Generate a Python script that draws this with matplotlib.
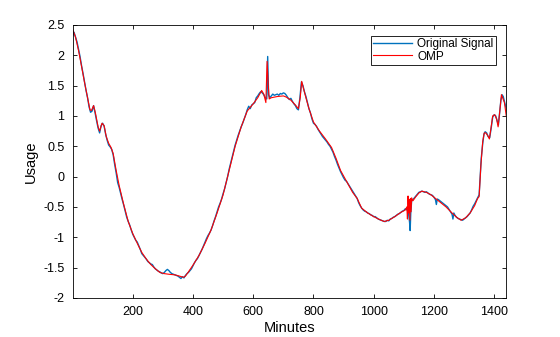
import numpy as np
import matplotlib.pyplot as plt

plt.rcParams['font.family'] = ['Liberation Sans', 'DejaVu Sans']

# original signal (minute, usage)
orig_min = [1, 5, 10, 15, 20, 25, 30, 35, 40, 45, 50, 55, 60, 65, 70, 75, 80, 85, 90, 95,
            100, 105, 110, 115, 120, 125, 130, 135, 140, 145, 150, 155, 160, 165, 170, 175,
            180, 185, 190, 195, 200, 205, 210, 215, 220, 225, 230, 235, 240, 245, 250, 255,
            260, 265, 270, 275, 280, 285, 290, 295, 300, 305, 310, 315, 320, 325, 330, 335,
            340, 345, 350, 355, 360, 365, 370, 375, 380, 385, 390, 395, 400, 405, 410, 415,
            420, 425, 430, 435, 440, 445, 450, 455, 460, 465, 470, 475, 480, 485, 490, 495,
            500, 505, 510, 515, 520, 525, 530, 535, 540, 545, 550, 555, 560, 565, 570, 575,
            580, 585, 590, 595, 600, 605, 610, 615, 620, 625, 630, 635, 640, 645, 648, 651,
            655, 660, 665, 670, 675, 680, 685, 690, 695, 700, 705, 710, 715, 720, 725, 730,
            735, 740, 745, 750, 755, 760, 765, 770, 775, 780, 785, 790, 795, 800, 805, 810,
            815, 820, 825, 830, 835, 840, 845, 850, 855, 860, 865, 870, 875, 880, 885, 890,
            895, 900, 905, 910, 915, 920, 925, 930, 935, 940, 945, 950, 955, 960, 965, 970,
            975, 980, 985, 990, 995, 1000, 1005, 1010, 1015, 1020, 1025, 1030, 1035, 1040,
            1045, 1050, 1055, 1060, 1065, 1070, 1075, 1080, 1085, 1090, 1095, 1100, 1105,
            1110, 1113, 1116, 1119, 1121, 1123, 1126, 1130, 1135, 1140, 1145, 1150, 1155,
            1160, 1165, 1170, 1175, 1180, 1185, 1190, 1195, 1200, 1205, 1208, 1211, 1215,
            1220, 1225, 1230, 1235, 1240, 1245, 1250, 1255, 1260, 1263, 1266, 1270, 1275,
            1280, 1285, 1290, 1295, 1300, 1305, 1310, 1315, 1320, 1325, 1330, 1335, 1340,
            1345, 1350, 1353, 1357, 1362, 1366, 1370, 1375, 1380, 1385, 1390, 1395, 1400,
            1405, 1410, 1414, 1418, 1422, 1426, 1430, 1435, 1440]
orig_val = [2.33, 2.38, 2.30, 2.22, 2.10, 1.98, 1.83, 1.70, 1.56, 1.42, 1.30, 1.15, 1.06, 1.08,
            1.17, 1.05, 0.92, 0.80, 0.72, 0.84, 0.88, 0.83, 0.70, 0.60, 0.52, 0.49, 0.45, 0.36,
            0.20, 0.06, -0.10, -0.18, -0.28, -0.38, -0.47, -0.57, -0.67, -0.74, -0.80, -0.88,
            -0.95, -1.00, -1.05, -1.08, -1.14, -1.20, -1.27, -1.30, -1.33, -1.36, -1.40, -1.42,
            -1.44, -1.45, -1.49, -1.52, -1.54, -1.56, -1.57, -1.59, -1.60, -1.58, -1.55, -1.53,
            -1.55, -1.58, -1.60, -1.61, -1.62, -1.63, -1.64, -1.66, -1.68, -1.65, -1.67, -1.63,
            -1.60, -1.58, -1.55, -1.52, -1.47, -1.42, -1.38, -1.35, -1.30, -1.25, -1.20, -1.14,
            -1.08, -1.02, -0.97, -0.93, -0.88, -0.81, -0.73, -0.66, -0.58, -0.50, -0.44, -0.37,
            -0.28, -0.20, -0.10, 0.00, 0.12, 0.22, 0.32, 0.42, 0.52, 0.60, 0.68, 0.75, 0.82,
            0.88, 0.95, 1.02, 1.10, 1.16, 1.12, 1.18, 1.20, 1.22, 1.30, 1.33, 1.37, 1.40, 1.38,
            1.35, 1.30, 1.28, 1.98, 1.35, 1.30, 1.33, 1.36, 1.34, 1.35, 1.36, 1.34, 1.37, 1.36,
            1.38, 1.37, 1.34, 1.30, 1.27, 1.29, 1.24, 1.20, 1.17, 1.12, 1.10, 1.30, 1.56, 1.50,
            1.40, 1.32, 1.22, 1.12, 1.05, 0.95, 0.88, 0.86, 0.83, 0.78, 0.74, 0.70, 0.66, 0.63,
            0.60, 0.57, 0.53, 0.50, 0.45, 0.40, 0.33, 0.27, 0.20, 0.14, 0.08, 0.03, -0.02,
            -0.06, -0.08, -0.12, -0.16, -0.20, -0.24, -0.28, -0.32, -0.36, -0.43, -0.48, -0.52,
            -0.55, -0.57, -0.58, -0.60, -0.61, -0.63, -0.64, -0.66, -0.66, -0.68, -0.70, -0.71,
            -0.72, -0.73, -0.74, -0.74, -0.72, -0.73, -0.70, -0.69, -0.67, -0.66, -0.64, -0.62,
            -0.61, -0.59, -0.57, -0.56, -0.53, -0.55, -0.50, -0.62, -0.75, -0.89, -0.60, -0.40,
            -0.38, -0.35, -0.32, -0.29, -0.26, -0.25, -0.24, -0.25, -0.26, -0.25, -0.27, -0.29,
            -0.30, -0.31, -0.34, -0.38, -0.46, -0.37, -0.38, -0.40, -0.42, -0.44, -0.46, -0.48,
            -0.50, -0.54, -0.58, -0.62, -0.70, -0.60, -0.64, -0.67, -0.69, -0.70, -0.71, -0.72,
            -0.70, -0.68, -0.66, -0.63, -0.60, -0.55, -0.49, -0.45, -0.40, -0.35, -0.30, -0.05,
            0.30, 0.55, 0.70, 0.74, 0.72, 0.66, 0.64, 0.80, 0.98, 1.02, 1.00, 0.92, 0.85, 1.05,
            1.25, 1.35, 1.32, 1.22, 1.12]

# OMP reconstruction
omp_min = [1, 10, 20, 30, 40, 50, 58, 63, 70, 76, 85, 90, 98, 105, 112, 120, 128, 135, 145,
           155, 170, 185, 200, 215, 230, 245, 260, 275, 290, 305, 320, 340, 355, 368, 375,
           385, 400, 420, 440, 460, 480, 500, 520, 540, 560, 580, 600, 615, 628, 635, 642,
           646, 650, 653, 660, 680, 700, 710, 725, 740, 750, 756, 761, 767, 775, 785, 800,
           820, 840, 860, 875, 890, 910, 930, 945, 960, 980, 1000, 1020, 1035, 1050, 1070,
           1090, 1105, 1110, 1112, 1114, 1116, 1118, 1120, 1122, 1124, 1126, 1130, 1140,
           1150, 1160, 1175, 1190, 1205, 1220, 1240, 1260, 1275, 1290, 1305, 1320, 1335,
           1345, 1350, 1356, 1362, 1367, 1372, 1378, 1384, 1390, 1395, 1402, 1408, 1413,
           1418, 1424, 1428, 1434, 1440]
omp_val = [2.42, 2.30, 2.08, 1.82, 1.55, 1.30, 1.10, 1.09, 1.17, 1.05, 0.82, 0.75, 0.88, 0.84,
           0.66, 0.55, 0.48, 0.38, 0.10, -0.15, -0.46, -0.74, -0.94, -1.10, -1.25, -1.36,
           -1.45, -1.52, -1.58, -1.60, -1.61, -1.62, -1.64, -1.66, -1.64, -1.57, -1.46, -1.30,
           -1.10, -0.88, -0.60, -0.30, 0.10, 0.50, 0.82, 1.08, 1.20, 1.30, 1.42, 1.36, 1.22,
           1.90, 1.50, 1.28, 1.30, 1.32, 1.33, 1.31, 1.26, 1.18, 1.12, 1.30, 1.57, 1.45, 1.30,
           1.12, 0.90, 0.75, 0.62, 0.48, 0.30, 0.10, -0.08, -0.26, -0.36, -0.52, -0.60, -0.66,
           -0.71, -0.74, -0.72, -0.66, -0.59, -0.55, -0.50, -0.70, -0.32, -0.60, -0.38, -0.72,
           -0.36, -0.58, -0.35, -0.40, -0.33, -0.27, -0.24, -0.26, -0.30, -0.36, -0.42, -0.50,
           -0.60, -0.67, -0.72, -0.68, -0.60, -0.48, -0.36, -0.33, 0.20, 0.58, 0.72, 0.72,
           0.68, 0.62, 0.82, 1.00, 1.02, 0.95, 0.82, 1.05, 1.35, 1.30, 1.22, 1.00]

fig = plt.figure(figsize=(5.6, 3.37), dpi=100)
ax = fig.add_axes([0.13, 0.116, 0.774, 0.81])

ax.plot(orig_min, orig_val, color='#0072BD', lw=1.0, label='Original Signal')
ax.plot(omp_min, omp_val, color='red', lw=0.8, label='OMP')

ax.set_xlim(1, 1440)
ax.set_ylim(-2, 2.5)
ax.set_xticks([200, 400, 600, 800, 1000, 1200, 1400])
yt = np.arange(-2, 2.51, 0.5)
ax.set_yticks(yt)
ax.set_yticklabels(['%g' % v for v in yt])
ax.tick_params(direction='in', top=True, right=True, labelsize=9, length=3, width=0.6)
ax.tick_params(axis='x', pad=6)
ax.tick_params(axis='y', pad=6)
for s in ax.spines.values():
    s.set_linewidth(0.6)

ax.set_xlabel('Minutes', fontsize=10.5, labelpad=2)
ax.set_ylabel('Usage', fontsize=10.5, labelpad=4)

leg = ax.legend(loc='upper right', fontsize=8.5, fancybox=False, framealpha=1,
                edgecolor='black', handlelength=3.3, borderpad=0.2, labelspacing=0.05,
                handletextpad=0.4, borderaxespad=0.9)
leg.get_frame().set_linewidth(0.6)

fig.savefig('out.png', dpi=100)
